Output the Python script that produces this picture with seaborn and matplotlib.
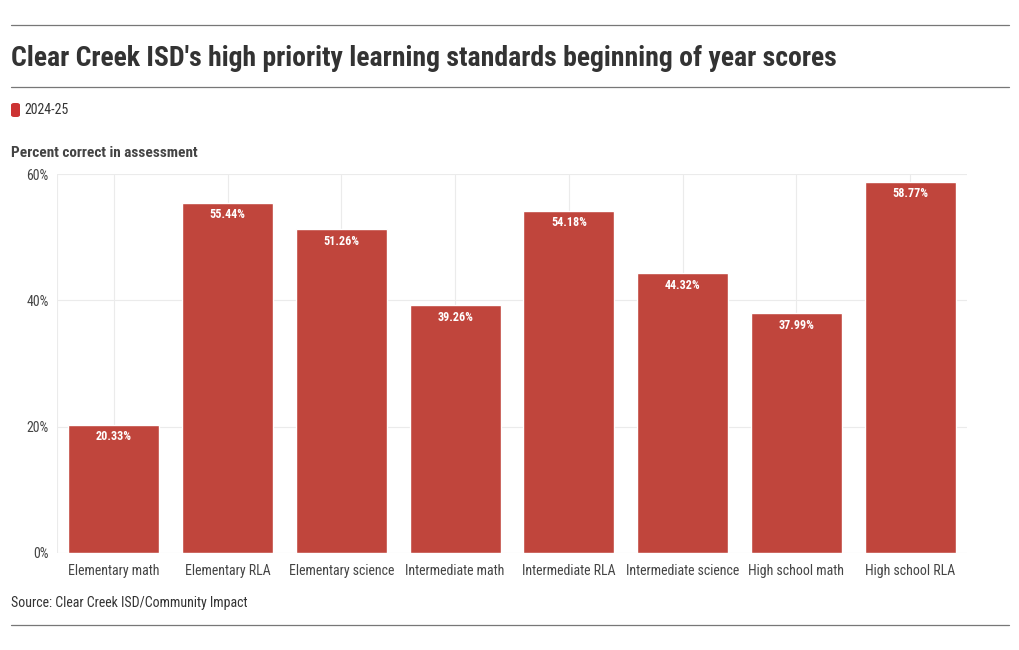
import matplotlib
matplotlib.use("Agg")
import matplotlib.pyplot as plt
import seaborn as sns
import pandas as pd
from matplotlib import font_manager
from matplotlib.patches import FancyBboxPatch
from matplotlib.lines import Line2D

categories = ["Elementary math", "Elementary RLA", "Elementary science", "Intermediate math",
              "Intermediate RLA", "Intermediate science", "High school math", "High school RLA"]
values = [20.33, 55.44, 51.26, 39.26, 54.18, 44.32, 37.99, 58.77]
yticks = [0, 20, 40, 60]
ytick_labels = ["0%", "20%", "40%", "60%"]
series_name = "2024-25"

sns.set_theme(style="white")
available = set(f.name for f in font_manager.fontManager.ttflist)
condensed = "Roboto Condensed" in available
fams = [f for f in ["Roboto Condensed", "Roboto", "DejaVu Sans"] if f in available] or ["DejaVu Sans"]
plt.rcParams['font.family'] = fams
k = 1.0 if condensed else 0.85

W, H = 1020, 650
fig = plt.figure(figsize=(W / 100, H / 100), dpi=100)
ax = fig.add_axes([57 / W, 1 - 553 / H, (967 - 57) / W, (553 - 174) / H])

df = pd.DataFrame({"cat": categories, "val": values})
bar_color = "#c0453c"
sns.barplot(data=df, x="cat", y="val", color=bar_color, width=0.8, ax=ax, saturation=1, zorder=3)

ax.set_ylim(0, 60)
ax.set_xlim(-0.5, len(categories) - 0.5)
ax.set_yticks(yticks)
ax.set_yticklabels(ytick_labels)
ax.set_xlabel("")
ax.set_ylabel("")
for s in ax.spines.values():
    s.set_visible(False)
ax.grid(True, axis="both", color="#ebebeb", linewidth=0.8, zorder=0)
ax.axvline(-0.5, color="#ebebeb", linewidth=0.8, zorder=0)
ax.tick_params(axis="both", length=0, labelsize=10 * k, colors="#444444")
ax.tick_params(axis="x", pad=8)
ax.tick_params(axis="y", pad=6)

for p, v in zip(ax.patches, values):
    ax.annotate(f"{v:.2f}%", (p.get_x() + p.get_width() / 2, p.get_height()),
                xytext=(0, -4), textcoords="offset points", ha="center", va="top",
                color="white", fontsize=8.7 * k, fontweight="bold", zorder=5)

def fx(x): return x / W
def fy(y): return 1 - y / H

for y in (25, 87, 625):
    fig.add_artist(Line2D([fx(11), fx(1009)], [fy(y), fy(y)], color="#777777", linewidth=0.9))

fig.text(fx(11), fy(58), "Clear Creek ISD's high priority learning standards beginning of year scores",
         fontsize=20 * k, fontweight="bold", color="#333333", va="center", ha="left")

fig.add_artist(FancyBboxPatch((fx(11), fy(117)), fx(9), 14 / H,
                              boxstyle="round,pad=0,rounding_size=0.003",
                              facecolor="#cc3333", edgecolor="none", transform=fig.transFigure))
fig.text(fx(24), fy(110), series_name, fontsize=10 * k, color="#333333", va="center", ha="left")

fig.text(fx(11), fy(153), "Percent correct in assessment", fontsize=11 * k, fontweight="bold",
         color="#444444", va="center", ha="left")
fig.text(fx(11), fy(603), "Source: Clear Creek ISD/Community Impact", fontsize=10 * k,
         color="#333333", va="center", ha="left")

fig.savefig("out.png", dpi=100)
